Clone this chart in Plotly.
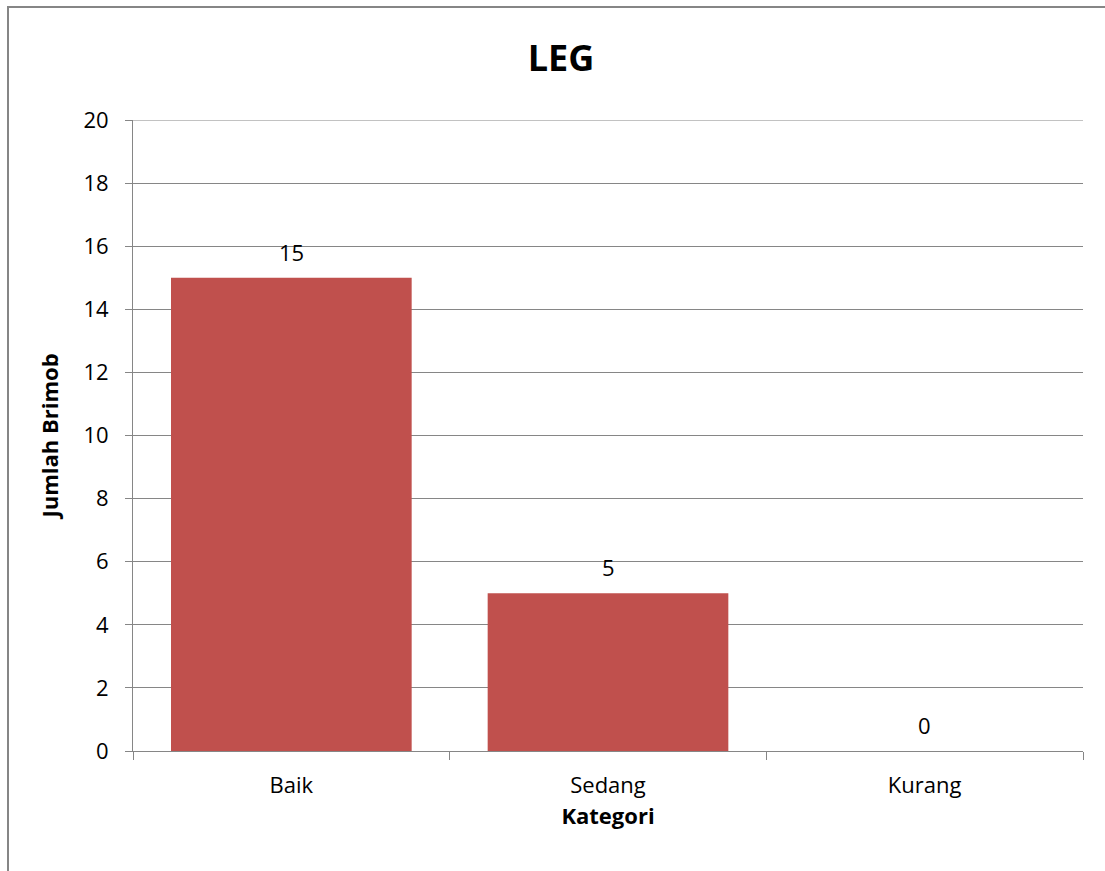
import plotly.graph_objects as go

categories = ["Baik", "Sedang", "Kurang"]
values = [15, 5, 0]
y_ticks = [0, 2, 4, 6, 8, 10, 12, 14, 16, 18, 20]

W, H = 1105, 871
L, R, T, B = 133, 22, 120, 120
pw, ph = W - L - R, H - T - B
gray = "#868686"
font = "Open Sans"
fs = 22

fig = go.Figure(go.Bar(
    x=categories, y=values, marker_color="#C0504D", marker_line_width=0,
))

for c, v in zip(categories, values):
    fig.add_annotation(x=c, y=v, text=str(v), showarrow=False, yanchor="middle",
                       yshift=26, font=dict(family=font, size=fs, color="black"))

fig.update_layout(
    width=W, height=H, margin=dict(l=L, r=R, t=T, b=B, pad=0),
    paper_bgcolor="white", plot_bgcolor="white",
    bargap=0.24, showlegend=False,
    title=dict(text="<b>LEG</b>", x=561 / W, xanchor="center", y=1 - 58 / H, yanchor="middle",
               font=dict(family=font, size=36, color="black")),
    font=dict(family=font, size=fs, color="black"),
    xaxis=dict(
        tickson="boundaries", ticks="outside", ticklen=8, tickcolor=gray, tickwidth=1,
        showline=True, linecolor=gray, linewidth=1, showgrid=False,
        ticklabelstandoff=15,
        tickfont=dict(family=font, size=fs, color="black"),
        title=dict(text="<b>Kategori</b>", font=dict(family=font, size=fs, color="black"), standoff=10),
    ),
    yaxis=dict(
        range=[0, 20], tickvals=y_ticks, ticks="outside", ticklen=7, tickcolor=gray, tickwidth=1,
        showline=True, linecolor=gray, linewidth=1, showgrid=True, gridcolor=gray, gridwidth=1,
        zeroline=False, ticklabelstandoff=12,
        tickfont=dict(family=font, size=fs, color="black"),
        title=dict(text="<b>Jumlah Brimob</b>", font=dict(family=font, size=fs, color="black"), standoff=18),
    ),
)

# top gridline at the maximum tick
fig.add_shape(type="line", xref="paper", yref="y", x0=0, x1=1, y0=y_ticks[-1], y1=y_ticks[-1],
              line=dict(color=gray, width=1))

# chart area border (extends beyond the visible window on right/bottom)
fig.add_shape(type="rect", xref="paper", yref="paper",
              x0=(8 - L) / pw, x1=(W + 20 - L) / pw,
              y0=-(B + 20) / ph, y1=1 + (T - 7) / ph,
              line=dict(color=gray, width=2), fillcolor="rgba(0,0,0,0)", layer="below")

fig.write_html("out.html")
